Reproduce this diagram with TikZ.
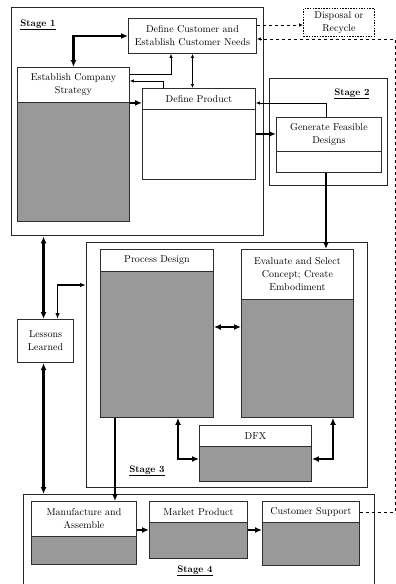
\documentclass[tikz,border=0pt]{standalone}
\usepackage{tikz}
\usetikzlibrary{calc,arrows.meta}
\definecolor{boxgray}{RGB}{153,153,153}
\definecolor{edgegray}{RGB}{45,45,45}

\begin{document}
\begin{tikzpicture}[x=1pt,y=-1pt,
    font=\fontsize{10}{13}\selectfont,
    stagebox/.style={draw=black!85,line width=1.4pt,anchor=north west,inner sep=0pt},
    blk/.style={draw=edgegray,line width=0.9pt,fill=boxgray,anchor=north west,inner sep=0pt},
    wblk/.style={blk,fill=white},
    hd/.style={draw=edgegray,line width=0.9pt,fill=white,anchor=north west,inner sep=0pt,align=center},
    dotbox/.style={hd,draw=black,dash pattern=on 1.5pt off 1.2pt},
    lbl/.style={font=\fontsize{9.5}{11}\selectfont\bfseries},
    thin/.style={line width=0.7pt,>={Latex[length=4pt,width=3.5pt]}},
    mid/.style={line width=1.1pt,>={Latex[length=6pt,width=4.5pt]}},
    heavy/.style={line width=2.2pt,>={Latex[length=7pt,width=6pt]}},
    recycle/.style={line width=0.8pt,dash pattern=on 3.5pt off 2.5pt,>={Latex[length=4pt,width=3.5pt]}}]
    \clip (0,0) rectangle (396,584);

    % stage 1
    \node (Stage1) [stagebox,minimum width=252pt,minimum height=228pt] at (11,7) {};
    \node (Stage1Lbl) [lbl] at (38,25) {\underline{Stage 1}};
    \node (Cust) [hd,minimum width=128pt,minimum height=35pt] at (128,18) {Define Customer and\\Establish Customer Needs};
    \node (Strat) [blk,minimum width=112pt,minimum height=154pt] at (17,67) {};
    \node (StratHd) [hd,minimum width=112pt,minimum height=35pt] at (Strat.north west) {Establish Company\\Strategy};
    \node (Prod) [wblk,minimum width=113pt,minimum height=91pt] at (142,88) {};
    \node (ProdHd) [hd,minimum width=113pt,minimum height=21pt] at (Prod.north west) {Define Product};
    \node (Disp) [dotbox,minimum width=71pt,minimum height=28pt] at (303,8) {Disposal or\\Recycle};

    % stage 2
    \node (Stage2) [stagebox,minimum width=118pt,minimum height=107pt] at (269,78) {};
    \node (Stage2Lbl) [lbl,anchor=east] at (373,94) {\underline{Stage 2}};
    \node (Gen) [wblk,minimum width=105pt,minimum height=55pt] at (276,117) {};
    \node (GenHd) [hd,minimum width=105pt,minimum height=34pt] at (Gen.north west) {Generate Feasible\\Designs};

    % stage 3
    \node (Stage3) [stagebox,minimum width=281pt,minimum height=245pt] at (86,242) {};
    \node (Proc) [blk,minimum width=113pt,minimum height=168pt] at (100,249) {};
    \node (ProcHd) [hd,minimum width=113pt,minimum height=22pt] at (Proc.north west) {Process Design};
    \node (Eval) [blk,minimum width=112pt,minimum height=168pt] at (241,249) {};
    \node (EvalHd) [hd,minimum width=112pt,minimum height=50pt] at (Eval.north west) {Evaluate and Select\\Concept; Create\\Embodiment};
    \node (Dfx) [blk,minimum width=112pt,minimum height=56pt] at (199,425) {};
    \node (DfxHd) [hd,minimum width=112pt,minimum height=21pt] at (Dfx.north west) {DFX};
    \node (Stage3Lbl) [lbl] at (147,471) {\underline{Stage 3}};

    \node (Less) [hd,line width=1.1pt,minimum width=56pt,minimum height=43pt] at (17,319) {Lessons\\Learned};

    % stage 4
    \node (Stage4) [stagebox,minimum width=351pt,minimum height=110pt] at (23,494) {};
    \node (Manu) [blk,minimum width=105pt,minimum height=63pt] at (31,501) {};
    \node (ManuHd) [hd,minimum width=105pt,minimum height=35pt] at (Manu.north west) {Manufacture and\\Assemble};
    \node (Mkt) [blk,minimum width=98pt,minimum height=57pt] at (149,501) {};
    \node (MktHd) [hd,minimum width=98pt,minimum height=21pt] at (Mkt.north west) {Market Product};
    \node (Supp) [blk,minimum width=97pt,minimum height=64pt] at (262,501) {};
    \node (SuppHd) [hd,minimum width=97pt,minimum height=21pt] at (Supp.north west) {Customer Support};
    \node (Stage4Lbl) [lbl] at (195,571) {\underline{Stage 4}};

    % free ends
    \coordinate (CustOut) at ($(Cust.north east)+(0,7)$);
    \coordinate (RetTop) at (395,39);
    \coordinate (GenOut) at ($(Gen.south)+(-3,0)$);
    \coordinate (LessL) at ($(Less.north)+(-2,0)$);
    \coordinate (LessR) at ($(Less.north)+(12,0)$);
    \coordinate (LessB) at ($(Less.south)+(-2,0)$);
    \coordinate (ProcOut) at ($(Proc.north east)+(0,78)$);
    \coordinate (ProcDn) at ($(Proc.south west)+(15,0)$);
    \coordinate (ProcDfx) at ($(Proc.south west)+(78,0)$);
    \coordinate (EvalDfx) at ($(Eval.south west)+(92,0)$);

    % stage 1 links
    \draw[heavy,<->] (StratHd.north) |- (Cust.west);
    \draw[thin,->] ($(StratHd.north east)+(0,7)$) -| ($(Cust.south west)+(43,0)$);
    \draw[thin,<->] (Cust.south) -- (Cust.south |- ProdHd.north);
    \draw[thin,->] ($(ProdHd.north west)+(21,0)$) |- ($(StratHd.north east)+(0,14)$);
    \draw[heavy,->] (StratHd.south east) -- (StratHd.south east -| ProdHd.west);
    \draw[recycle,->] (CustOut) -- (CustOut -| Disp.west);
    \draw[recycle,->] (SuppHd.east) -| (RetTop) -- (RetTop -| Cust.east);

    % stage 2 links
    \draw[heavy,->] (Prod.east) -- (Prod.east -| Gen.west);
    \draw[thin,->] ($(Gen.north)+(-3,0)$) |- ($(ProdHd.north east)+(0,15)$);
    \draw[heavy,->] (GenOut) -- (GenOut |- EvalHd.north);

    % lessons learned
    \draw[heavy,<->] (LessL) -- (LessL |- Stage1.south);
    \draw[mid,<->] (LessR) |- ($(Stage3.north west)+(0,43)$);
    \draw[heavy,<->] (LessB) -- (LessB |- Stage4.north);

    % stage 3 links
    \draw[heavy,<->] (ProcOut) -- (ProcOut -| Eval.west);
    \draw[heavy,->] (ProcDn) -- (ProcDn |- Manu.north);
    \draw[heavy,<->] (ProcDfx) |- ($(Dfx.north west)+(0,34)$);
    \draw[heavy,<->] (EvalDfx) |- ($(Dfx.north east)+(0,34)$);

    % stage 4 links
    \draw[heavy,->] (Mkt.west -| Manu.east) -- (Mkt.west);
    \draw[heavy,->] (Mkt.east) -- (Mkt.east -| Supp.west);
\end{tikzpicture}
\end{document}
